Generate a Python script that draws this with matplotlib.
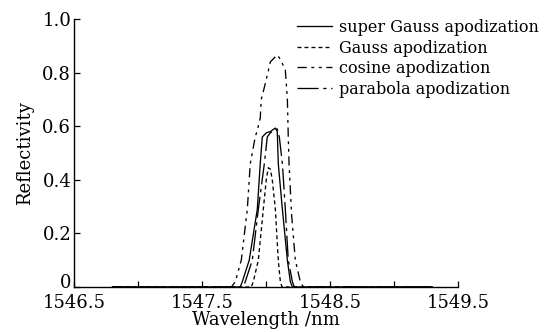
import matplotlib
matplotlib.use("Agg")
import matplotlib.pyplot as plt
import matplotlib.transforms as mtransforms
from matplotlib.ticker import MultipleLocator, FixedLocator, FixedFormatter

plt.rcParams['font.family'] = ['DejaVu Serif']
plt.rcParams['mathtext.fontset'] = 'dejavuserif'

# ---- data ----
super_gauss_wl = [1546.80, 1547.799, 1547.815, 1547.869, 1547.932, 1547.955, 1547.971, 1548.002,
                  1548.034, 1548.073, 1548.088, 1548.096, 1548.128, 1548.167, 1548.190, 1548.206,
                  1549.30]
super_gauss_r = [0, 0, 0.02, 0.10, 0.29, 0.46, 0.56, 0.575,
                 0.58, 0.593, 0.58, 0.46, 0.29, 0.10, 0.02, 0,
                 0]

parabola_wl = [1546.80, 1547.822, 1547.838, 1547.893, 1547.940, 1547.987, 1548.010, 1548.034,
               1548.065, 1548.088, 1548.104, 1548.128, 1548.151, 1548.174, 1548.206, 1548.221,
               1549.30]
parabola_r = [0, 0, 0.02, 0.10, 0.29, 0.46, 0.56, 0.575,
              0.585, 0.59, 0.56, 0.46, 0.29, 0.10, 0.02, 0,
              0]

gauss_wl = [1546.80, 1547.885, 1547.901, 1547.940, 1547.979, 1548.002, 1548.018, 1548.034,
            1548.049, 1548.073, 1548.096, 1548.112, 1548.125, 1549.30]
gauss_r = [0, 0, 0.02, 0.10, 0.29, 0.40, 0.445, 0.44,
           0.40, 0.29, 0.10, 0.02, 0, 0]

cosine_wl = [1546.80, 1547.73, 1547.760, 1547.807, 1547.854, 1547.877, 1547.916, 1547.932,
             1547.955, 1547.963, 1547.995, 1548.034, 1548.088, 1548.112, 1548.151, 1548.167,
             1548.174, 1548.180, 1548.200, 1548.229, 1548.268, 1548.292, 1549.30]
cosine_r = [0, 0, 0.02, 0.10, 0.29, 0.46, 0.56, 0.585,
            0.63, 0.70, 0.76, 0.84, 0.866, 0.85, 0.81, 0.70,
            0.56, 0.46, 0.27, 0.10, 0.02, 0, 0]

labels = ['super Gauss apodization', 'Gauss apodization',
          'cosine apodization', 'parabola apodization']

x_major = [1546.5, 1547.5, 1548.5, 1549.5]
y_ticks = [0, 0.2, 0.4, 0.6, 0.8, 1.0]
y_ticklabels = ['0', '0.2', '0.4', '0.6', '0.8', '1.0']

# ---- figure ----
fig = plt.figure(figsize=(5.49, 3.32), dpi=100)
ax = fig.add_axes([74/549, 45/332, (458-74)/549, (287-19)/332])

lw = 0.95
ax.plot(super_gauss_wl, super_gauss_r, color='black', lw=lw, linestyle='-', label=labels[0])
ax.plot(gauss_wl, gauss_r, color='black', lw=lw, linestyle=(0, (3.0, 2.3)), label=labels[1])
ax.plot(cosine_wl, cosine_r, color='black', lw=lw, linestyle=(0, (7, 3.5, 2.2, 3.5, 2.2, 3.5)), label=labels[2])
ax.plot(parabola_wl, parabola_r, color='black', lw=lw, linestyle=(0, (16, 3.5, 2.5, 3.5)), label=labels[3])

ax.set_xlim(1546.5, 1549.5)
ax.set_ylim(0, 1.0)
ax.xaxis.set_major_locator(FixedLocator(x_major))
ax.xaxis.set_minor_locator(MultipleLocator(0.5))
ax.yaxis.set_major_locator(FixedLocator(y_ticks))
ax.yaxis.set_major_formatter(FixedFormatter(y_ticklabels))

for s in ['top', 'right']:
    ax.spines[s].set_visible(False)
for s in ['left', 'bottom']:
    ax.spines[s].set_linewidth(1.0)

ax.tick_params(which='both', direction='in', length=4, width=0.9, labelsize=13)
ax.tick_params(axis='x', pad=5)
ax.tick_params(axis='y', pad=2)

# lift the "0" label slightly so it sits just above the x tick label, as in the reference
offset = mtransforms.ScaledTranslation(0, 4/72, fig.dpi_scale_trans)
ylabels0 = ax.get_yticklabels()[0]
ylabels0.set_transform(ylabels0.get_transform() + offset)

ax.set_xlabel('Wavelength /nm', fontsize=13, labelpad=-1)
ax.set_ylabel('Reflectivity', fontsize=13, labelpad=6)

leg = ax.legend(loc='upper left', bbox_to_anchor=(297/549, 1 - 19/332),
                bbox_transform=fig.transFigure, frameon=False, fontsize=11.5,
                handlelength=2.2, handletextpad=0.45, labelspacing=0.22,
                borderpad=0, borderaxespad=0)

fig.savefig('out.png', dpi=100, facecolor='white')
